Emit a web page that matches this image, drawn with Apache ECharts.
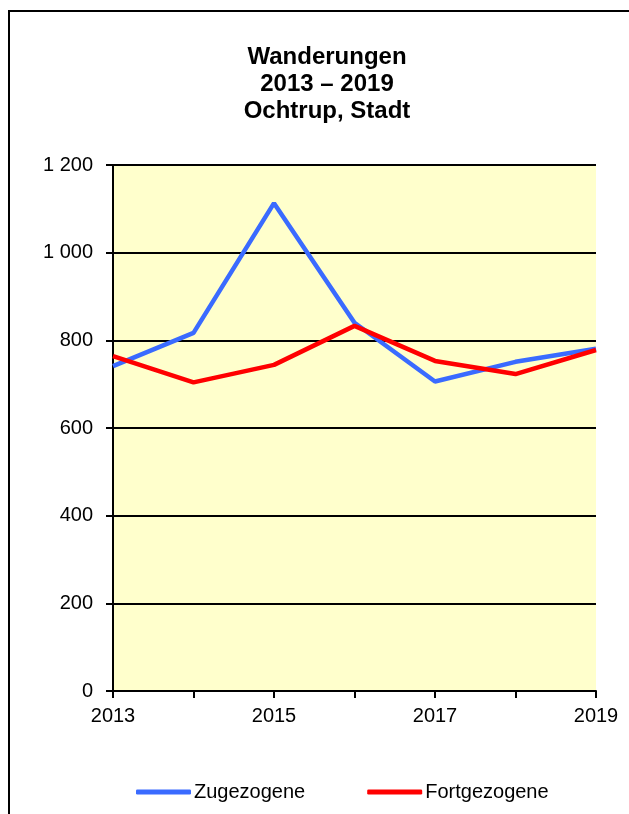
<!DOCTYPE html>
<html>
<head>
<meta charset="utf-8">
<script src="https://cdn.jsdelivr.net/npm/echarts@6/dist/echarts.min.js"></script>
<style>
  html, body { margin: 0; padding: 0; background: #fff; }
  #chart { width: 629px; height: 814px; }
</style>
</head>
<body>
<div id="chart"></div>
<script>
const years = ['2013', '2014', '2015', '2016', '2017', '2018', '2019']
const zugezogene = [741, 817, 1113, 840, 706, 751, 781]
const fortgezogene = [764, 704, 744, 833, 753, 723, 778]
const yTicks = [0, 200, 400, 600, 800, 1000, 1200]

const fmt = v => String(v).replace(/\B(?=(\d{3})+(?!\d))/g, ' ')

let chart = echarts.init(document.getElementById('chart'))

chart.setOption({
  animation: false,
  textStyle: { fontFamily: 'Liberation Sans, Arial, sans-serif' },
  graphic: [
    {
      type: 'rect',
      shape: { x: 9, y: 11, width: 640, height: 820 },
      style: { fill: 'none', stroke: '#000', lineWidth: 2 },
      z: -1
    },
    {
      type: 'text',
      x: 327, y: 44,
      style: {
        text: 'Wanderungen\n2013 – 2019\nOchtrup, Stadt',
        textAlign: 'center',
        font: 'bold 24px Liberation Sans, Arial, sans-serif',
        lineHeight: 27,
        fill: '#000'
      }
    }
  ],
  legend: {
    top: 777,
    left: 131,
    itemWidth: 55,
    itemHeight: 5,
    itemGap: 62,
    icon: 'roundRect',
    textStyle: { fontSize: 20, color: '#000', padding: [0, 0, 0, -2] },
    data: ['Zugezogene', 'Fortgezogene']
  },
  grid: { left: 113, right: 33, top: 165, bottom: 123, backgroundColor: '#FFFFCC', show: true, borderWidth: 0 },
  xAxis: {
    type: 'category',
    data: years,
    boundaryGap: false,
    axisLine: { lineStyle: { color: '#000', width: 2 } },
    axisTick: { show: true, interval: 0, length: 7, lineStyle: { color: '#000', width: 2 } },
    axisLabel: { interval: 1, color: '#000', fontSize: 20, margin: 15 }
  },
  yAxis: {
    type: 'value',
    min: yTicks[0],
    max: yTicks[yTicks.length - 1],
    interval: 200,
    axisLine: { show: true, lineStyle: { color: '#000', width: 2 } },
    axisTick: { show: true, length: 7, lineStyle: { color: '#000', width: 2 } },
    axisLabel: { color: '#000', fontSize: 20, margin: 20, formatter: fmt },
    splitLine: { lineStyle: { color: '#000', width: 2 } }
  },
  series: [
    {
      name: 'Zugezogene',
      type: 'line',
      data: zugezogene,
      symbol: 'none',
      color: '#3A6BFF',
      lineStyle: { width: 4.5, color: '#3A6BFF' },
      z: 3
    },
    {
      name: 'Fortgezogene',
      type: 'line',
      data: fortgezogene,
      symbol: 'none',
      color: '#FF0000',
      lineStyle: { width: 4.5, color: '#FF0000' },
      z: 4
    }
  ]
})
</script>
</body>
</html>
